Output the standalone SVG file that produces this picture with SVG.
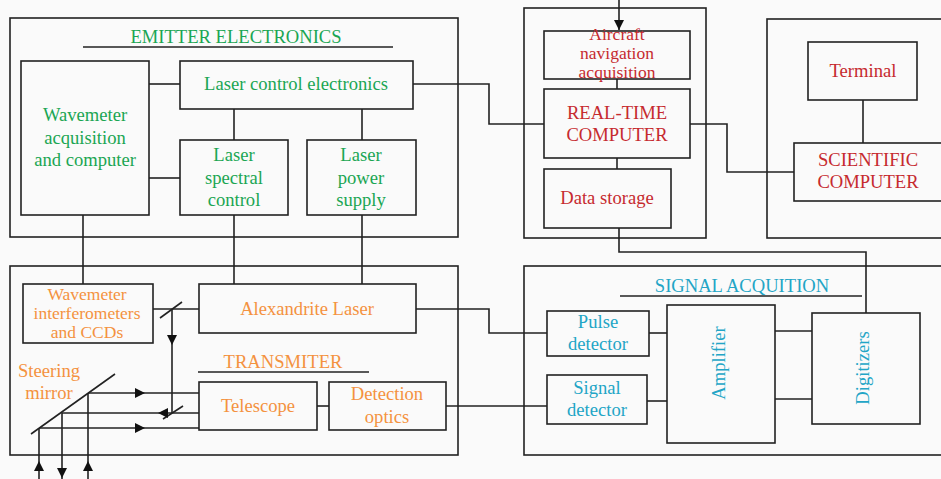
<svg xmlns="http://www.w3.org/2000/svg" xmlns:xlink="http://www.w3.org/1999/xlink" width="941" height="479" viewBox="0 0 941 479">
<style>
.b{fill:none;stroke:#222;stroke-width:1.6}
.c{fill:none;stroke:#222;stroke-width:1.6}
text{font-family:"Liberation Serif","Times New Roman",serif;font-size:18.6px;text-anchor:middle}
.s{font-size:17.5px}
.g{fill:#1aa653}
.r{fill:#c62a2f}
.o{fill:#f4923f}
.t{fill:#22a5c6}
</style>
<defs>
<path id="ah" d="M0,0 L-10,-5 L-10,5 Z" fill="#111"/>
</defs>
<rect x="0" y="0" width="941" height="479" fill="#fafafa"/>

<g id="emitter">
<rect class="b" x="10" y="18" width="448" height="219"/>
<text class="g" x="236" y="43">EMITTER ELECTRONICS</text>
<line class="c" x1="83" y1="47" x2="393" y2="47"/>
</g>
<g id="wavemeter-acq">
<rect class="b" x="21" y="61" width="128" height="154"/>
<text class="g" x="85" y="121">Wavemeter</text>
<text class="g" x="85" y="144">acquisition</text>
<text class="g" x="85" y="166">and computer</text>
</g>
<g id="laser-control">
<rect class="b" x="180" y="61" width="233" height="48"/>
<text class="g" x="296" y="90">Laser control electronics</text>
</g>
<g id="laser-spectral">
<rect class="b" x="180" y="140" width="108" height="75"/>
<text class="g" x="234" y="161">Laser</text>
<text class="g" x="234" y="184">spectral</text>
<text class="g" x="234" y="206">control</text>
</g>
<g id="laser-power">
<rect class="b" x="307" y="140" width="109" height="75"/>
<text class="g" x="361" y="161">Laser</text>
<text class="g" x="361" y="184">power</text>
<text class="g" x="361" y="206">supply</text>
</g>

<g id="rt-group">
<rect class="b" x="524" y="8" width="182" height="230"/>
</g>
<g id="aircraft-nav">
<rect class="b" x="544" y="31" width="146" height="48"/>
<text class="r s" x="617" y="40">Aircraft</text>
<text class="r s" x="617" y="59">navigation</text>
<text class="r s" x="617" y="78">acquisition</text>
</g>
<g id="rt-computer">
<rect class="b" x="544" y="89" width="146" height="69"/>
<text class="r" x="617" y="119">REAL-TIME</text>
<text class="r" x="617" y="141">COMPUTER</text>
</g>
<g id="data-storage">
<rect class="b" x="544" y="169" width="127" height="59"/>
<text class="r" x="607" y="204">Data storage</text>
</g>

<g id="sci-group">
<rect class="b" x="767" y="19" width="180" height="219"/>
</g>
<g id="terminal">
<rect class="b" x="808" y="42" width="109" height="58"/>
<text class="r" x="863" y="77">Terminal</text>
</g>
<g id="sci-computer">
<rect class="b" x="794" y="143" width="153" height="58"/>
<text class="r" x="868" y="166">SCIENTIFIC</text>
<text class="r" x="868" y="188">COMPUTER</text>
</g>

<g id="transmitter">
<rect class="b" x="10" y="266" width="448" height="189"/>
<text class="o" x="283" y="368">TRANSMITER</text>
<line class="c" x1="198" y1="372" x2="369" y2="372"/>
<text class="o" x="49" y="377">Steering</text>
<text class="o" x="49" y="399">mirror</text>
</g>
<g id="wavemeter-int">
<rect class="b" x="23" y="284" width="130" height="59"/>
<text class="o s" x="87" y="300">Wavemeter</text>
<text class="o s" x="87" y="319">interferometers</text>
<text class="o s" x="87" y="338">and CCDs</text>
</g>
<g id="alexandrite">
<rect class="b" x="199" y="284" width="217" height="49"/>
<text class="o" x="307" y="315">Alexandrite Laser</text>
</g>
<g id="telescope">
<rect class="b" x="199" y="382" width="118" height="48"/>
<text class="o" x="258" y="412">Telescope</text>
</g>
<g id="detection-optics">
<rect class="b" x="329" y="382" width="117" height="48"/>
<text class="o" x="387" y="400">Detection</text>
<text class="o" x="387" y="423">optics</text>
</g>

<g id="signal-acq">
<rect class="b" x="524" y="266" width="422" height="189"/>
<text class="t" x="742" y="292">SIGNAL ACQUITION</text>
<line class="c" x1="620" y1="296" x2="862" y2="296"/>
</g>
<g id="pulse-detector">
<rect class="b" x="547" y="311" width="102" height="45"/>
<text class="t" x="598" y="328">Pulse</text>
<text class="t" x="598" y="350">detector</text>
</g>
<g id="signal-detector">
<rect class="b" x="547" y="375" width="100" height="49"/>
<text class="t" x="597" y="394">Signal</text>
<text class="t" x="597" y="416">detector</text>
</g>
<g id="amplifier">
<rect class="b" x="667" y="305" width="108" height="138"/>
<text class="t" transform="translate(725,363) rotate(-90)">Amplifier</text>
</g>
<g id="digitizers">
<rect class="b" x="812" y="313" width="108" height="111"/>
<text class="t" transform="translate(869,368) rotate(-90)">Digitizers</text>
</g>

<g id="connectors">
<polyline class="c" points="149,84 180,84"/>
<polyline class="c" points="149,178 180,178"/>
<polyline class="c" points="234,109 234,140"/>
<polyline class="c" points="362,109 362,140"/>
<polyline class="c" points="83,215 83,284"/>
<polyline class="c" points="234,215 234,284"/>
<polyline class="c" points="362,215 362,284"/>
<polyline class="c" points="413,84 489,84 489,124 544,124"/>
<polyline class="c" points="619,0 619,30"/>
<polyline class="c" points="617,79 617,89"/>
<polyline class="c" points="617,158 617,169"/>
<polyline class="c" points="690,124 727,124 727,172 794,172"/>
<polyline class="c" points="863,100 863,143"/>
<polyline class="c" points="619,228 619,252 866,252 866,313"/>
<polyline class="c" points="416,309 489,309 489,333 547,333"/>
<polyline class="c" points="446,406 547,406"/>
<polyline class="c" points="317,406 329,406"/>
<polyline class="c" points="649,333 667,333"/>
<polyline class="c" points="647,401 667,401"/>
<polyline class="c" points="775,331 812,331"/>
<polyline class="c" points="775,399 812,399"/>
<polyline class="c" points="153,309 199,309"/>
<line class="c" x1="160" y1="318" x2="182" y2="302"/>
<polyline class="c" points="172,309 172,413"/>
<line class="c" x1="163" y1="419" x2="183" y2="406"/>
<line class="c" x1="31" y1="434" x2="115" y2="374"/>
<polyline class="c" points="88,393 199,393"/>
<polyline class="c" points="62,413 199,413"/>
<polyline class="c" points="39,428 199,428"/>
<polyline class="c" points="39,428 39,479"/>
<polyline class="c" points="62,413 62,479"/>
<polyline class="c" points="88,393 88,479"/>
<use xlink:href="#ah" transform="translate(619,30) rotate(90)"/>
<use xlink:href="#ah" transform="translate(172,345) rotate(90)"/>
<use xlink:href="#ah" transform="translate(145,393)"/>
<use xlink:href="#ah" transform="translate(158,413) rotate(180)"/>
<use xlink:href="#ah" transform="translate(145,428)"/>
<use xlink:href="#ah" transform="translate(39,461) rotate(-90)"/>
<use xlink:href="#ah" transform="translate(62,478) rotate(90)"/>
<use xlink:href="#ah" transform="translate(88,461) rotate(-90)"/>
</g>
</svg>
